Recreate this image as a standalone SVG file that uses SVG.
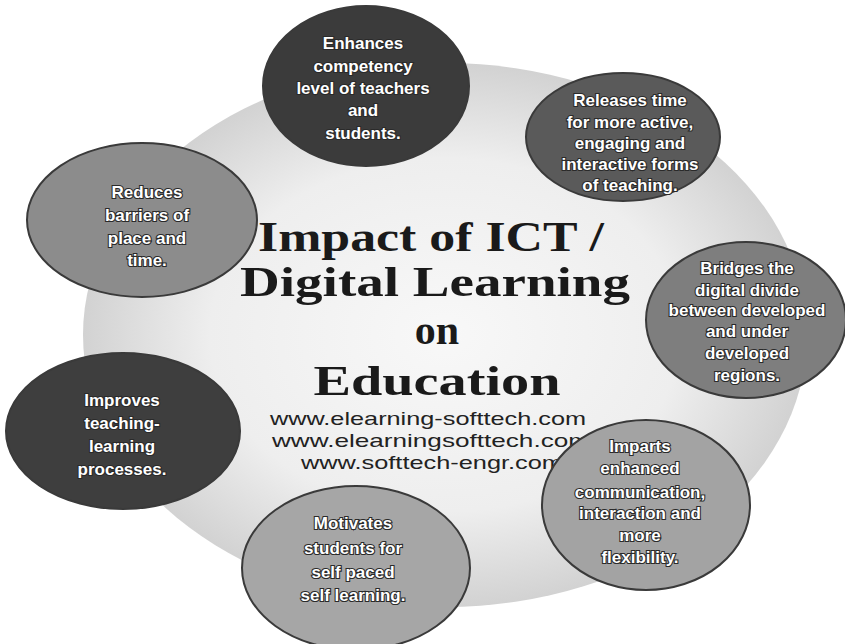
<svg xmlns="http://www.w3.org/2000/svg" width="845" height="644" viewBox="0 0 845 644">
<defs>
<radialGradient id="bg" cx="0.5" cy="0.5" r="0.5">
<stop offset="0" stop-color="#f8f8f8"/>
<stop offset="0.65" stop-color="#eeeeee"/>
<stop offset="1" stop-color="#d2d2d2"/>
</radialGradient>
</defs>
<style>
.node ellipse{stroke:#3a3a3a;stroke-width:2}
.lbl{font-family:"Liberation Sans",Arial,sans-serif;font-weight:bold;font-size:17px;fill:#fff;stroke:#2a2a2a;stroke-width:2.2;paint-order:stroke;text-anchor:middle}
.title{font-family:"Liberation Serif","Times New Roman",serif;font-weight:bold;font-size:42px;fill:#1a1a1a;text-anchor:middle}
.url{font-family:"Liberation Sans",Arial,sans-serif;font-size:19px;fill:#222;text-anchor:middle}
</style>
<rect width="845" height="644" fill="#ffffff"/>
<ellipse cx="445" cy="335" rx="362" ry="272" fill="url(#bg)"/>
<g id="title">
<text class="title" x="431" y="251" textLength="346" lengthAdjust="spacingAndGlyphs">Impact of ICT /</text>
<text class="title" x="435" y="296" textLength="390" lengthAdjust="spacingAndGlyphs">Digital Learning</text>
<text class="title" x="437" y="344">on</text>
<text class="title" x="437" y="395" textLength="247" lengthAdjust="spacingAndGlyphs">Education</text>
<text class="url" x="428" y="425" textLength="316" lengthAdjust="spacingAndGlyphs">www.elearning-softtech.com</text>
<text class="url" x="431" y="447" textLength="318" lengthAdjust="spacingAndGlyphs">www.elearningsofttech.com</text>
<text class="url" x="432" y="469" textLength="262" lengthAdjust="spacingAndGlyphs">www.softtech-engr.com</text>
</g>
<g id="connectors"></g>
<g id="n1" class="node">
<ellipse cx="366" cy="86" rx="103" ry="80" fill="#3b3b3b"/>
<text class="lbl" x="363" y="49">Enhances</text>
<text class="lbl" x="363" y="72">competency</text>
<text class="lbl" x="363" y="94">level of teachers</text>
<text class="lbl" x="363" y="116">and</text>
<text class="lbl" x="363" y="139">students.</text>
</g>
<g id="n2" class="node">
<ellipse cx="623" cy="137" rx="97" ry="64" fill="#5a5a5a"/>
<text class="lbl" x="630" y="106">Releases time</text>
<text class="lbl" x="630" y="128">for more active,</text>
<text class="lbl" x="630" y="149">engaging and</text>
<text class="lbl" x="630" y="170">interactive forms</text>
<text class="lbl" x="630" y="191">of teaching.</text>
</g>
<g id="n3" class="node">
<ellipse cx="142" cy="220" rx="115" ry="77" fill="#8c8c8c"/>
<text class="lbl" x="147" y="198">Reduces</text>
<text class="lbl" x="147" y="221">barriers of</text>
<text class="lbl" x="147" y="244">place and</text>
<text class="lbl" x="147" y="266">time.</text>
</g>
<g id="n4" class="node">
<ellipse cx="746" cy="320" rx="100" ry="78" fill="#7e7e7e"/>
<text class="lbl" x="747" y="274">Bridges the</text>
<text class="lbl" x="747" y="296">digital divide</text>
<text class="lbl" x="747" y="316">between developed</text>
<text class="lbl" x="747" y="337">and under</text>
<text class="lbl" x="747" y="359">developed</text>
<text class="lbl" x="747" y="381">regions.</text>
</g>
<g id="n5" class="node">
<ellipse cx="123" cy="431" rx="117" ry="78" fill="#3e3e3e"/>
<text class="lbl" x="122" y="406">Improves</text>
<text class="lbl" x="122" y="429">teaching-</text>
<text class="lbl" x="122" y="452">learning</text>
<text class="lbl" x="122" y="475">processes.</text>
</g>
<g id="n6" class="node">
<ellipse cx="646" cy="505" rx="104" ry="85" fill="#a3a3a3"/>
<text class="lbl" x="640" y="452">Imparts</text>
<text class="lbl" x="640" y="474">enhanced</text>
<text class="lbl" x="640" y="498">communication,</text>
<text class="lbl" x="640" y="519">interaction and</text>
<text class="lbl" x="640" y="541">more</text>
<text class="lbl" x="640" y="563">flexibility.</text>
</g>
<g id="n7" class="node">
<ellipse cx="356" cy="568" rx="114" ry="82" fill="#a6a6a6"/>
<text class="lbl" x="353" y="529">Motivates</text>
<text class="lbl" x="353" y="554">students for</text>
<text class="lbl" x="353" y="578">self paced</text>
<text class="lbl" x="353" y="601">self learning.</text>
</g>
</svg>
